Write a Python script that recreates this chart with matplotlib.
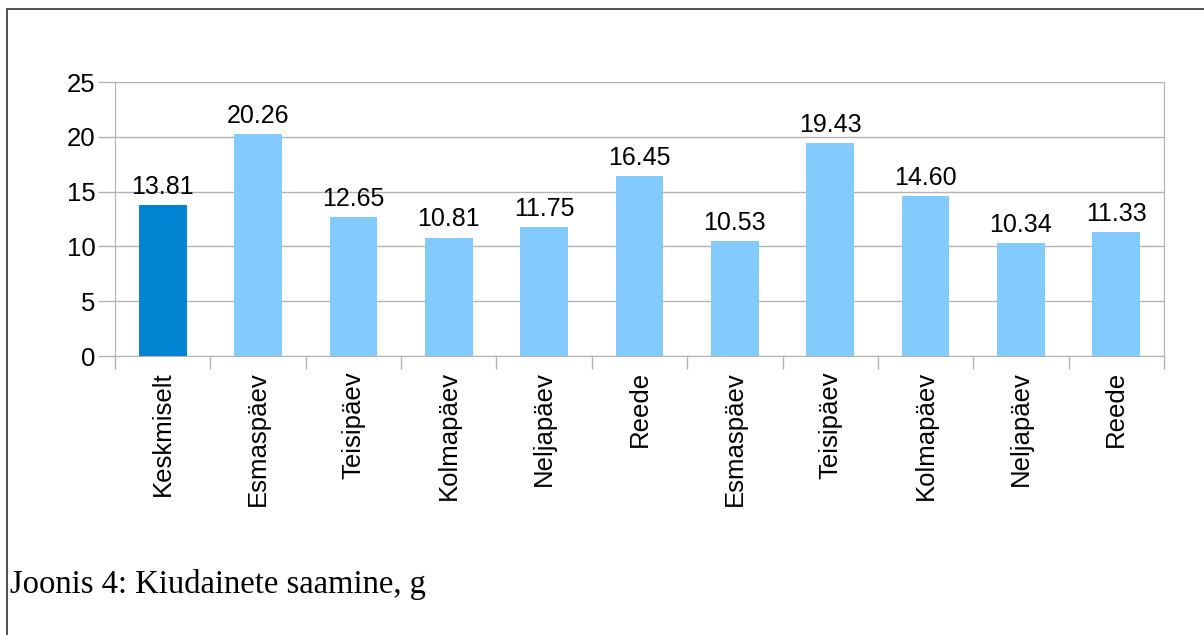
import matplotlib.pyplot as plt
from matplotlib.patches import Rectangle
import numpy as np

categories = ["Keskmiselt", "Esmaspäev", "Teisipäev", "Kolmapäev", "Neljapäev", "Reede",
              "Esmaspäev", "Teisipäev", "Kolmapäev", "Neljapäev", "Reede"]
values = [13.81, 20.26, 12.65, 10.81, 11.75, 16.45, 10.53, 19.43, 14.60, 10.34, 11.33]
yticks = [0, 5, 10, 15, 20, 25]
caption = "Joonis 4: Kiudainete saamine, g"

grid_col = "#b3b3b3"

fig = plt.figure(figsize=(12.04, 6.35), dpi=100)
ax = fig.add_axes([115 / 1204, 279 / 635, 1049 / 1204, 274 / 635])

x = np.arange(len(values))
colors = ["#0084d1"] + ["#83caff"] * (len(values) - 1)
ax.bar(x, values, width=0.5, color=colors, zorder=3)

for xi, v in zip(x, values):
    ax.text(xi, v + 0.55, f"{v:.2f}", ha="center", va="bottom",
            fontsize=18, family="Liberation Sans", zorder=4)

ax.set_xlim(-0.5, len(values) - 0.5)
ax.set_ylim(0, 25)
ax.set_yticks(yticks)
ax.yaxis.grid(True, color=grid_col, linewidth=1)
ax.set_axisbelow(True)

ax.set_xticks(x)
ax.set_xticklabels(categories, rotation=90, fontsize=18.5, family="Liberation Sans")
ax.set_xticks(np.arange(-0.5, len(values), 1), minor=True)
ax.tick_params(axis="x", which="major", length=0, pad=11)
ax.tick_params(axis="x", which="minor", length=9, color=grid_col, width=1)
ax.tick_params(axis="y", length=12, color=grid_col, width=1, pad=2)
for lab in ax.get_yticklabels():
    lab.set_fontsize(18.5)
    lab.set_family("Liberation Sans")

for side in ["left", "right", "bottom"]:
    ax.spines[side].set_color(grid_col)
ax.spines["top"].set_visible(False)

fig.text(10 / 1204, 1 - 584 / 635, caption, fontsize=23.5, family="Liberation Serif",
         va="center", ha="left")

fig.patches.append(Rectangle((7 / 1204, -0.1), 1.2, 1 - 9 / 635 + 0.1,
                             transform=fig.transFigure, fill=False,
                             edgecolor="#333333", linewidth=1.2))

fig.savefig("out.png", dpi=100)
